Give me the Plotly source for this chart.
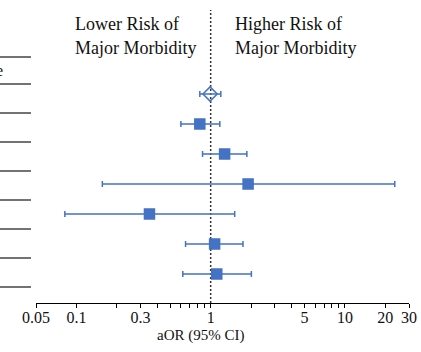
import math
import plotly.graph_objects as go

# Data (rows top to bottom)
rows = [1, 2, 3, 4, 5, 6, 7]
estimate = [0.99, 0.83, 1.27, 1.90, 0.35, 1.07, 1.11]
ci_low = [0.83, 0.60, 0.87, 0.156, 0.082, 0.65, 0.62]
ci_high = [1.19, 1.17, 1.86, 23.5, 1.51, 1.74, 2.01]
marker_symbols = ["diamond-open", "square", "square", "square", "square", "square", "square"]

tick_vals = [0.05, 0.1, 0.2, 0.3, 0.4, 0.5, 0.6, 0.7, 0.8, 0.9, 1,
             2, 3, 4, 5, 6, 7, 8, 9, 10, 20, 30]
tick_labels = {0.05: "0.05", 0.1: "0.1", 0.3: "0.3", 1: "1", 5: "5", 10: "10", 20: "20", 30: "30"}
x_title = "aOR (95% CI)"

BLUE = "#4472C4"
FONT = "Liberation Serif"

W, H = 421, 352
ML, MR, MT, MB = 36, 12, 10, 49
PW, PH = W - ML - MR, H - MT - MB

def px_x(p):
    return (p - ML) / PW

def px_y(p):
    return (H - MB - p) / PH

fig = go.Figure()

err_plus = [h - e for h, e in zip(ci_high, estimate)]
err_minus = [e - l for e, l in zip(estimate, ci_low)]

fig.add_trace(go.Scatter(
    x=estimate, y=rows, mode="markers",
    marker=dict(symbol=marker_symbols, size=[11, 10, 10, 10, 10, 10, 10], color=BLUE,
                opacity=1, line=dict(color=BLUE, width=1.5)),
    error_x=dict(type="data", symmetric=False, array=err_plus, arrayminus=err_minus,
                 color=BLUE, thickness=1.5, width=3),
    showlegend=False, hoverinfo="skip",
))

# reference line at 1
fig.add_shape(type="line", xref="x", yref="paper", x0=1, x1=1, y0=0, y1=1,
              line=dict(color="#333333", width=1.5, dash="2px,2px"), layer="below")

# cut-off table separators at the left edge
sep_px = [57, 84, 113, 142, 171, 200, 229, 258, 287]
for p in sep_px:
    fig.add_shape(type="line", xref="paper", yref="paper", x0=px_x(0), x1=px_x(31),
                  y0=px_y(p), y1=px_y(p), line=dict(color="#444444", width=1.5))

annots = [
    ("Lower Risk of", 72.7, 23.5),
    ("Major Morbidity", 72.7, 48.5),
    ("Higher Risk of", 232.7, 23.5),
    ("Major Morbidity", 232.7, 48.5),
]
for txt, xp, yp in annots:
    fig.add_annotation(text=txt, xref="paper", yref="paper", x=px_x(xp), y=px_y(yp),
                       xanchor="left", yanchor="middle", showarrow=False,
                       font=dict(family=FONT, size=18, color="#111111"))
fig.add_annotation(text="e", xref="paper", yref="paper", x=px_x(5), y=px_y(70),
                   xanchor="right", yanchor="middle", showarrow=False,
                   font=dict(family=FONT, size=16, color="#111111"))
fig.add_annotation(text=x_title, xref="paper", yref="paper", x=px_x(200), y=px_y(336),
                   xanchor="center", yanchor="middle", showarrow=False,
                   font=dict(family=FONT, size=15, color="#111111"))

fig.update_xaxes(type="log", range=[math.log10(0.05), math.log10(30)],
                 tickmode="array", tickvals=tick_vals,
                 ticktext=[tick_labels.get(v, "") for v in tick_vals],
                 ticks="outside", ticklen=4, tickwidth=1, tickcolor="black",
                 ticklabelstandoff=-4,
                 showline=True, linecolor="black", linewidth=1,
                 showgrid=False, zeroline=False, automargin=False,
                 tickfont=dict(family=FONT, size=16, color="#111111"))
fig.update_yaxes(visible=False, range=[7.967, -1.8], showgrid=False, zeroline=False,
                 automargin=False)

fig.update_layout(width=W, height=H, margin=dict(l=ML, r=MR, t=MT, b=MB, autoexpand=False),
                  plot_bgcolor="white", paper_bgcolor="white")

fig.write_html("out.html", config={"displayModeBar": False, "staticPlot": True},
               post_script="document.body.style.margin='0';document.body.style.padding='0';"
                           "document.body.style.overflow='hidden';")
